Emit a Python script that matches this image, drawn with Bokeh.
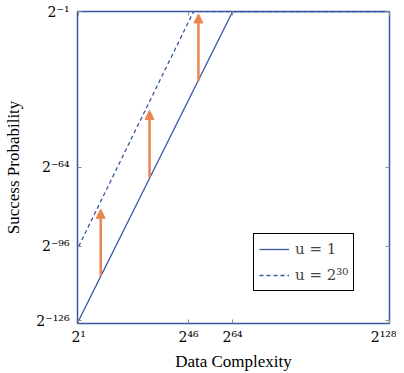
from bokeh.plotting import figure
from bokeh.models import (ColumnDataSource, FixedTicker, LinearAxis, Range1d,
                          Arrow, NormalHead, Legend, LegendItem)
from bokeh.embed import file_html
from bokeh.resources import INLINE

# ---- data (values are exponents of 2) ----
solid_x = [1, 64, 128]
solid_y = [-126, -1, -1]
dashed_x = [1, 48, 128]
dashed_y = [-96, -1, -1]
arrow_x = [10, 30, 50]
arrow_y0 = [-108, -68, -29]
arrow_y1 = [-81, -41, -2]
x_ticks = [1, 46, 64, 128]
x_tick_labels = ["2¹", "2⁴⁶", "2⁶⁴", "2¹²⁸"]
y_ticks = [-126, -96, -64, -1]
y_tick_labels = ["2⁻¹²⁶", "2⁻⁹⁶", "2⁻⁶⁴", "2⁻¹"]
legend_labels = ["u = 1", "u = 2³⁰"]

BLUE = "#3656A3"
ORANGE = "#E8864F"
TICK = "#8c8c8c"
TITLE_FONT = "Liberation Serif"
TICK_FONT = "DejaVu Serif"

p = figure(width=396, height=373,
           x_range=Range1d(0.5, 128.2), y_range=Range1d(-127.2, -1),
           output_backend="svg", toolbar_location=None,
           min_border_left=77, min_border_right=7,
           min_border_top=11, min_border_bottom=49)
p.grid.visible = False
p.outline_line_color = BLUE
p.outline_line_width = 1.5
p.outline_line_alpha = 1.0

r1 = p.line(solid_x, solid_y, line_color=BLUE, line_width=1.3)
r2 = p.line(dashed_x, dashed_y, line_color=BLUE, line_width=1.3, line_dash="4 3")

src = ColumnDataSource(dict(x=arrow_x, y0=arrow_y0, y1=arrow_y1))
p.add_layout(Arrow(end=NormalHead(size=9, fill_color=ORANGE, line_color=ORANGE, line_width=1),
                   x_start="x", y_start="y0", x_end="x", y_end="y1", source=src,
                   line_color=ORANGE, line_width=2.5))

def style_axis(ax, ticks, labels, show):
    ax.ticker = FixedTicker(ticks=ticks)
    ax.major_label_overrides = {t: (l if show else "") for t, l in zip(ticks, labels)}
    ax.axis_line_color = None
    ax.major_tick_in = 4
    ax.major_tick_out = 0
    ax.major_tick_line_color = TICK
    ax.minor_tick_line_color = None
    ax.major_label_text_font = TICK_FONT
    ax.major_label_text_font_size = "14px" if show else "0px"
    ax.major_label_text_color = "black"
    ax.axis_label_text_font = TITLE_FONT
    ax.axis_label_text_font_style = "normal"
    ax.axis_label_text_font_size = "17px"
    ax.axis_label_text_color = "black"

style_axis(p.xaxis[0], x_ticks, x_tick_labels, True)
p.xaxis.axis_label = "Data Complexity"
p.xaxis.major_label_standoff = 5
p.xaxis.axis_label_standoff = 4

style_axis(p.yaxis[0], y_ticks, y_tick_labels, True)
p.yaxis.axis_label = "Success Probability"
p.yaxis.major_label_standoff = 8
p.yaxis.axis_label_standoff = 10

ra = LinearAxis()
style_axis(ra, y_ticks, y_tick_labels, False)
ra.major_label_standoff = 0
p.add_layout(ra, "right")
ta = LinearAxis()
style_axis(ta, x_ticks, x_tick_labels, False)
ta.major_label_standoff = 0
p.add_layout(ta, "above")

legend = Legend(items=[LegendItem(label=legend_labels[0], renderers=[r1]),
                       LegendItem(label=legend_labels[1], renderers=[r2])],
                location=(176, 32), margin=0, padding=5, spacing=6,
                glyph_width=30, glyph_height=20, label_height=20, label_standoff=6,
                border_line_color="black", border_line_width=1, border_line_alpha=1,
                background_fill_color="white", background_fill_alpha=1,
                label_text_font=TICK_FONT, label_text_font_size="15px")
p.add_layout(legend)

open("out.html", "w").write(file_html(p, INLINE))
